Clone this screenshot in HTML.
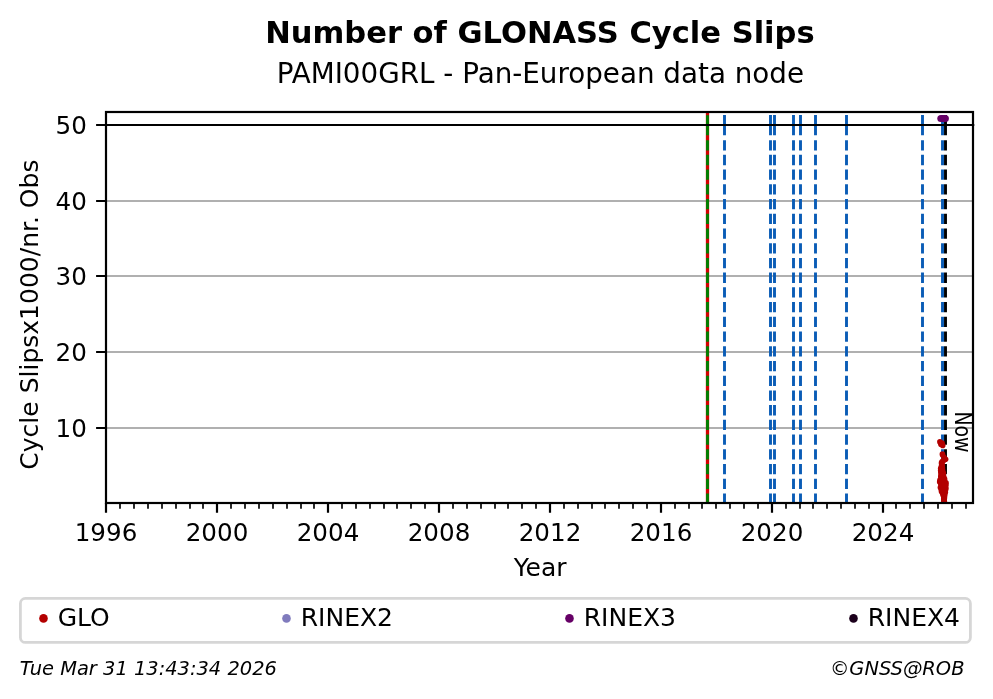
<!DOCTYPE html>
<html lang="en"><head><meta charset="utf-8"><title>Number of GLONASS Cycle Slips</title>
<style>html,body{margin:0;padding:0;background:#fff;overflow:hidden}svg{display:block}text{font-family:"DejaVu Sans","Liberation Sans",sans-serif;fill:#000}</style>
</head><body>
<svg width="993" height="699" viewBox="0 0 993 699">
<rect width="993" height="699" fill="#fff"/>
<defs><clipPath id="ax"><rect x="106.0" y="112.0" width="867.0" height="391.0"/></clipPath></defs>
<text x="539.9" y="43" font-size="30.56" font-weight="bold" text-anchor="middle">Number of GLONASS Cycle Slips</text>
<text x="540.4" y="82.8" font-size="27.78" text-anchor="middle">PAMI00GRL - Pan-European data node</text>
<line x1="106.0" x2="973.0" y1="428.00" y2="428.00" stroke="#b0b0b0" stroke-width="2.2"/>
<line x1="106.0" x2="973.0" y1="352.00" y2="352.00" stroke="#b0b0b0" stroke-width="2.2"/>
<line x1="106.0" x2="973.0" y1="276.00" y2="276.00" stroke="#b0b0b0" stroke-width="2.2"/>
<line x1="106.0" x2="973.0" y1="201.00" y2="201.00" stroke="#b0b0b0" stroke-width="2.2"/>
<g clip-path="url(#ax)">
<line x1="707.5" x2="707.5" y1="504.0" y2="112.0" stroke="#d40000" stroke-width="3.3"/>
<path d="M707.5 503.70V493.42M707.5 488.98V478.70M707.5 474.26V463.98M707.5 459.54V449.26M707.5 444.82V434.54M707.5 430.10V419.82M707.5 415.38V405.10M707.5 400.66V390.38M707.5 385.94V375.66M707.5 371.22V360.94M707.5 356.50V346.22M707.5 341.78V331.50M707.5 327.06V316.78M707.5 312.34V302.06M707.5 297.62V287.34M707.5 282.90V272.62M707.5 268.18V257.90M707.5 253.46V243.18M707.5 238.74V228.46M707.5 224.02V213.74M707.5 209.30V199.02M707.5 194.58V184.30M707.5 179.86V169.58M707.5 165.14V154.86M707.5 150.42V140.14M707.5 135.20V115.20" stroke="#008000" stroke-width="2.9" fill="none"/>
<path d="M724.5 503.70V493.42M724.5 488.98V478.70M724.5 474.26V463.98M724.5 459.54V449.26M724.5 444.82V434.54M724.5 430.10V419.82M724.5 415.38V405.10M724.5 400.66V390.38M724.5 385.94V375.66M724.5 371.22V360.94M724.5 356.50V346.22M724.5 341.78V331.50M724.5 327.06V316.78M724.5 312.34V302.06M724.5 297.62V287.34M724.5 282.90V272.62M724.5 268.18V257.90M724.5 253.46V243.18M724.5 238.74V228.46M724.5 224.02V213.74M724.5 209.30V199.02M724.5 194.58V184.30M724.5 179.86V169.58M724.5 165.14V154.86M724.5 150.42V140.14M724.5 135.20V115.00" stroke="#0a5cb6" stroke-width="2.9" fill="none"/>
<path d="M770.5 503.70V493.42M770.5 488.98V478.70M770.5 474.26V463.98M770.5 459.54V449.26M770.5 444.82V434.54M770.5 430.10V419.82M770.5 415.38V405.10M770.5 400.66V390.38M770.5 385.94V375.66M770.5 371.22V360.94M770.5 356.50V346.22M770.5 341.78V331.50M770.5 327.06V316.78M770.5 312.34V302.06M770.5 297.62V287.34M770.5 282.90V272.62M770.5 268.18V257.90M770.5 253.46V243.18M770.5 238.74V228.46M770.5 224.02V213.74M770.5 209.30V199.02M770.5 194.58V184.30M770.5 179.86V169.58M770.5 165.14V154.86M770.5 150.42V140.14M770.5 135.20V115.00" stroke="#0a5cb6" stroke-width="2.9" fill="none"/>
<path d="M774.5 503.70V493.42M774.5 488.98V478.70M774.5 474.26V463.98M774.5 459.54V449.26M774.5 444.82V434.54M774.5 430.10V419.82M774.5 415.38V405.10M774.5 400.66V390.38M774.5 385.94V375.66M774.5 371.22V360.94M774.5 356.50V346.22M774.5 341.78V331.50M774.5 327.06V316.78M774.5 312.34V302.06M774.5 297.62V287.34M774.5 282.90V272.62M774.5 268.18V257.90M774.5 253.46V243.18M774.5 238.74V228.46M774.5 224.02V213.74M774.5 209.30V199.02M774.5 194.58V184.30M774.5 179.86V169.58M774.5 165.14V154.86M774.5 150.42V140.14M774.5 135.20V115.00" stroke="#0a5cb6" stroke-width="2.9" fill="none"/>
<path d="M793.5 503.70V493.42M793.5 488.98V478.70M793.5 474.26V463.98M793.5 459.54V449.26M793.5 444.82V434.54M793.5 430.10V419.82M793.5 415.38V405.10M793.5 400.66V390.38M793.5 385.94V375.66M793.5 371.22V360.94M793.5 356.50V346.22M793.5 341.78V331.50M793.5 327.06V316.78M793.5 312.34V302.06M793.5 297.62V287.34M793.5 282.90V272.62M793.5 268.18V257.90M793.5 253.46V243.18M793.5 238.74V228.46M793.5 224.02V213.74M793.5 209.30V199.02M793.5 194.58V184.30M793.5 179.86V169.58M793.5 165.14V154.86M793.5 150.42V140.14M793.5 135.20V115.00" stroke="#0a5cb6" stroke-width="2.9" fill="none"/>
<path d="M800.5 503.70V493.42M800.5 488.98V478.70M800.5 474.26V463.98M800.5 459.54V449.26M800.5 444.82V434.54M800.5 430.10V419.82M800.5 415.38V405.10M800.5 400.66V390.38M800.5 385.94V375.66M800.5 371.22V360.94M800.5 356.50V346.22M800.5 341.78V331.50M800.5 327.06V316.78M800.5 312.34V302.06M800.5 297.62V287.34M800.5 282.90V272.62M800.5 268.18V257.90M800.5 253.46V243.18M800.5 238.74V228.46M800.5 224.02V213.74M800.5 209.30V199.02M800.5 194.58V184.30M800.5 179.86V169.58M800.5 165.14V154.86M800.5 150.42V140.14M800.5 135.20V115.00" stroke="#0a5cb6" stroke-width="2.9" fill="none"/>
<path d="M815.5 503.70V493.42M815.5 488.98V478.70M815.5 474.26V463.98M815.5 459.54V449.26M815.5 444.82V434.54M815.5 430.10V419.82M815.5 415.38V405.10M815.5 400.66V390.38M815.5 385.94V375.66M815.5 371.22V360.94M815.5 356.50V346.22M815.5 341.78V331.50M815.5 327.06V316.78M815.5 312.34V302.06M815.5 297.62V287.34M815.5 282.90V272.62M815.5 268.18V257.90M815.5 253.46V243.18M815.5 238.74V228.46M815.5 224.02V213.74M815.5 209.30V199.02M815.5 194.58V184.30M815.5 179.86V169.58M815.5 165.14V154.86M815.5 150.42V140.14M815.5 135.20V115.00" stroke="#0a5cb6" stroke-width="2.9" fill="none"/>
<path d="M846.5 503.70V493.42M846.5 488.98V478.70M846.5 474.26V463.98M846.5 459.54V449.26M846.5 444.82V434.54M846.5 430.10V419.82M846.5 415.38V405.10M846.5 400.66V390.38M846.5 385.94V375.66M846.5 371.22V360.94M846.5 356.50V346.22M846.5 341.78V331.50M846.5 327.06V316.78M846.5 312.34V302.06M846.5 297.62V287.34M846.5 282.90V272.62M846.5 268.18V257.90M846.5 253.46V243.18M846.5 238.74V228.46M846.5 224.02V213.74M846.5 209.30V199.02M846.5 194.58V184.30M846.5 179.86V169.58M846.5 165.14V154.86M846.5 150.42V140.14M846.5 135.20V115.00" stroke="#0a5cb6" stroke-width="2.9" fill="none"/>
<path d="M922.5 503.70V493.42M922.5 488.98V478.70M922.5 474.26V463.98M922.5 459.54V449.26M922.5 444.82V434.54M922.5 430.10V419.82M922.5 415.38V405.10M922.5 400.66V390.38M922.5 385.94V375.66M922.5 371.22V360.94M922.5 356.50V346.22M922.5 341.78V331.50M922.5 327.06V316.78M922.5 312.34V302.06M922.5 297.62V287.34M922.5 282.90V272.62M922.5 268.18V257.90M922.5 253.46V243.18M922.5 238.74V228.46M922.5 224.02V213.74M922.5 209.30V199.02M922.5 194.58V184.30M922.5 179.86V169.58M922.5 165.14V154.86M922.5 150.42V140.14M922.5 135.20V115.00" stroke="#0a5cb6" stroke-width="2.9" fill="none"/>
<path d="M942.5 503.70V493.42M942.5 488.98V478.70M942.5 474.26V463.98M942.5 459.54V449.26M942.5 444.82V434.54M942.5 430.10V419.82M942.5 415.38V405.10M942.5 400.66V390.38M942.5 385.94V375.66M942.5 371.22V360.94M942.5 356.50V346.22M942.5 341.78V331.50M942.5 327.06V316.78M942.5 312.34V302.06M942.5 297.62V287.34M942.5 282.90V272.62M942.5 268.18V257.90M942.5 253.46V243.18M942.5 238.74V228.46M942.5 224.02V213.74M942.5 209.30V199.02M942.5 194.58V184.30M942.5 179.86V169.58M942.5 165.14V154.86M942.5 150.42V140.14M942.5 135.20V115.00" stroke="#0a5cb6" stroke-width="2.9" fill="none"/>
<path d="M945.5 503.70V493.42M945.5 488.98V478.70M945.5 474.26V463.98M945.5 459.54V449.26M945.5 444.82V434.54M945.5 430.10V419.82M945.5 415.38V405.10M945.5 400.66V390.38M945.5 385.94V375.66M945.5 371.22V360.94M945.5 356.50V346.22M945.5 341.78V331.50M945.5 327.06V316.78M945.5 312.34V302.06M945.5 297.62V287.34M945.5 282.90V272.62M945.5 268.18V257.90M945.5 253.46V243.18M945.5 238.74V228.46M945.5 224.02V213.74M945.5 209.30V199.02M945.5 194.58V184.30M945.5 179.86V169.58M945.5 165.14V154.86M945.5 150.42V140.14M945.5 135.20V115.00" stroke="#000000" stroke-width="2.9" fill="none"/>
</g>
<line x1="106.0" x2="974.3" y1="125" y2="125" stroke="#000" stroke-width="2.2"/>
<g fill="#b30000" clip-path="url(#ax)">
<circle cx="939.9" cy="441.9" r="2.8"/>
<circle cx="941.2" cy="443.6" r="2.8"/>
<circle cx="942.7" cy="445.4" r="2.8"/>
<circle cx="941.0" cy="444.5" r="2.8"/>
<circle cx="942.0" cy="443.0" r="2.8"/>
<circle cx="942.4" cy="454.1" r="2.8"/>
<circle cx="942.6" cy="455.0" r="2.8"/>
<circle cx="944.0" cy="457.2" r="2.8"/>
<circle cx="945.6" cy="459.3" r="2.8"/>
<circle cx="943.6" cy="460.6" r="2.8"/>
<circle cx="942.2" cy="461.6" r="2.8"/>
<circle cx="941.5" cy="462.9" r="2.8"/>
<circle cx="941.8" cy="463.8" r="2.8"/>
<circle cx="941.7" cy="464.8" r="2.8"/>
<circle cx="942.3" cy="465.7" r="2.8"/>
<circle cx="941.3" cy="466.7" r="2.8"/>
<circle cx="942.4" cy="467.6" r="2.8"/>
<circle cx="940.7" cy="468.6" r="2.8"/>
<circle cx="942.5" cy="469.5" r="2.8"/>
<circle cx="940.7" cy="470.5" r="2.8"/>
<circle cx="942.7" cy="471.4" r="2.8"/>
<circle cx="940.9" cy="472.4" r="2.8"/>
<circle cx="943.4" cy="473.3" r="2.8"/>
<circle cx="941.2" cy="474.3" r="2.8"/>
<circle cx="942.9" cy="475.2" r="2.8"/>
<circle cx="942.0" cy="474.7" r="2.8"/>
<circle cx="940.8" cy="476.2" r="2.8"/>
<circle cx="943.8" cy="477.1" r="2.8"/>
<circle cx="943.0" cy="476.6" r="2.8"/>
<circle cx="941.0" cy="478.1" r="2.8"/>
<circle cx="944.6" cy="479.0" r="2.8"/>
<circle cx="943.2" cy="478.5" r="2.8"/>
<circle cx="940.0" cy="480.0" r="2.8"/>
<circle cx="944.5" cy="480.9" r="2.8"/>
<circle cx="942.6" cy="480.4" r="2.8"/>
<circle cx="939.7" cy="481.9" r="2.8"/>
<circle cx="946.0" cy="482.8" r="2.8"/>
<circle cx="942.6" cy="482.3" r="2.8"/>
<circle cx="940.9" cy="483.8" r="2.8"/>
<circle cx="945.9" cy="484.7" r="2.8"/>
<circle cx="943.0" cy="484.2" r="2.8"/>
<circle cx="941.0" cy="485.7" r="2.8"/>
<circle cx="945.6" cy="486.6" r="2.8"/>
<circle cx="943.1" cy="486.1" r="2.8"/>
<circle cx="940.4" cy="487.6" r="2.8"/>
<circle cx="945.9" cy="488.5" r="2.8"/>
<circle cx="942.9" cy="488.0" r="2.8"/>
<circle cx="941.3" cy="489.5" r="2.8"/>
<circle cx="945.4" cy="490.4" r="2.8"/>
<circle cx="943.0" cy="489.9" r="2.8"/>
<circle cx="941.5" cy="491.4" r="2.8"/>
<circle cx="945.3" cy="492.3" r="2.8"/>
<circle cx="943.1" cy="491.8" r="2.8"/>
<circle cx="942.6" cy="493.3" r="2.8"/>
<circle cx="944.7" cy="494.2" r="2.8"/>
<circle cx="943.3" cy="493.7" r="2.8"/>
<circle cx="943.2" cy="495.2" r="2.8"/>
<circle cx="944.6" cy="496.1" r="2.8"/>
<circle cx="944.0" cy="497.1" r="2.8"/>
<circle cx="944.4" cy="498.0" r="2.8"/>
<circle cx="943.8" cy="499.0" r="2.8"/>
<circle cx="944.0" cy="499.9" r="2.8"/>
<circle cx="943.9" cy="500.9" r="2.8"/>
<circle cx="944.4" cy="501.8" r="2.8"/>
</g>
<g fill="#660066"><circle cx="940.9" cy="118.5" r="3.6"/><circle cx="943.1" cy="118.5" r="3.6"/><circle cx="945.3" cy="118.5" r="3.6"/></g>
<text transform="translate(955.3 411.4) rotate(90) scale(0.82 1)" font-size="23" x="0" y="0">Now</text>
<rect x="106.0" y="112.0" width="867.0" height="391.0" fill="none" stroke="#000" stroke-width="2.2"/>
<path d="M106 503.0v9.7M217 503.0v9.7M328 503.0v9.7M439 503.0v9.7M550 503.0v9.7M661 503.0v9.7M772 503.0v9.7M883 503.0v9.7" stroke="#000" stroke-width="2.2" fill="none"/>
<path d="M120 503.0v5.7M134 503.0v5.7M148 503.0v5.7M162 503.0v5.7M176 503.0v5.7M190 503.0v5.7M203 503.0v5.7M231 503.0v5.7M245 503.0v5.7M259 503.0v5.7M273 503.0v5.7M287 503.0v5.7M301 503.0v5.7M314 503.0v5.7M342 503.0v5.7M356 503.0v5.7M370 503.0v5.7M384 503.0v5.7M397 503.0v5.7M411 503.0v5.7M425 503.0v5.7M453 503.0v5.7M467 503.0v5.7M481 503.0v5.7M495 503.0v5.7M508 503.0v5.7M522 503.0v5.7M536 503.0v5.7M564 503.0v5.7M578 503.0v5.7M592 503.0v5.7M605 503.0v5.7M619 503.0v5.7M633 503.0v5.7M647 503.0v5.7M675 503.0v5.7M689 503.0v5.7M702 503.0v5.7M716 503.0v5.7M730 503.0v5.7M744 503.0v5.7M758 503.0v5.7M786 503.0v5.7M800 503.0v5.7M813 503.0v5.7M827 503.0v5.7M841 503.0v5.7M855 503.0v5.7M869 503.0v5.7M896 503.0v5.7M910 503.0v5.7M924 503.0v5.7M938 503.0v5.7M952 503.0v5.7M966 503.0v5.7" stroke="#000" stroke-width="1.67" fill="none"/>
<path d="M106.0 428.00h-9.9M106.0 352.00h-9.9M106.0 276.00h-9.9M106.0 201.00h-9.9M106.0 125.00h-9.9" stroke="#000" stroke-width="2.2" fill="none"/>
<text x="106.00" y="541" font-size="24.6" text-anchor="middle">1996</text>
<text x="217.00" y="541" font-size="24.6" text-anchor="middle">2000</text>
<text x="328.00" y="541" font-size="24.6" text-anchor="middle">2004</text>
<text x="439.00" y="541" font-size="24.6" text-anchor="middle">2008</text>
<text x="550.00" y="541" font-size="24.6" text-anchor="middle">2012</text>
<text x="661.00" y="541" font-size="24.6" text-anchor="middle">2016</text>
<text x="772.00" y="541" font-size="24.6" text-anchor="middle">2020</text>
<text x="883.00" y="541" font-size="24.6" text-anchor="middle">2024</text>
<text x="86.8" y="437.10" font-size="24.6" text-anchor="end">10</text>
<text x="86.8" y="361.10" font-size="24.6" text-anchor="end">20</text>
<text x="86.8" y="285.10" font-size="24.6" text-anchor="end">30</text>
<text x="86.8" y="210.10" font-size="24.6" text-anchor="end">40</text>
<text x="86.8" y="134.10" font-size="24.6" text-anchor="end">50</text>
<text x="540.1" y="575.9" font-size="25" text-anchor="middle">Year</text>
<text transform="translate(38 314.6) rotate(-90)" font-size="25" text-anchor="middle">Cycle Slipsx1000/nr. Obs</text>
<rect x="20.4" y="598.4" width="950" height="44" rx="5" ry="5" fill="#fff" stroke="#d6d6d6" stroke-width="2.78"/>
<circle cx="43.5" cy="618.4" r="4.3" fill="#b30000"/>
<text x="57.7" y="625.9" font-size="25">GLO</text>
<circle cx="286.5" cy="618.4" r="4.3" fill="#807bbd"/>
<text x="300.7" y="625.9" font-size="25">RINEX2</text>
<circle cx="569.5" cy="618.4" r="4.3" fill="#660066"/>
<text x="583.7" y="625.9" font-size="25">RINEX3</text>
<circle cx="853.5" cy="618.4" r="4.3" fill="#1c001c"/>
<text x="867.7" y="625.9" font-size="25">RINEX4</text>
<text x="19.8" y="674.7" font-size="19.44" font-style="oblique">Tue Mar 31 13:43:34 2026</text>
<text x="964.5" y="674.6" font-size="19.44" font-style="oblique" text-anchor="end">©GNSS@ROB</text>
</svg></body></html>
